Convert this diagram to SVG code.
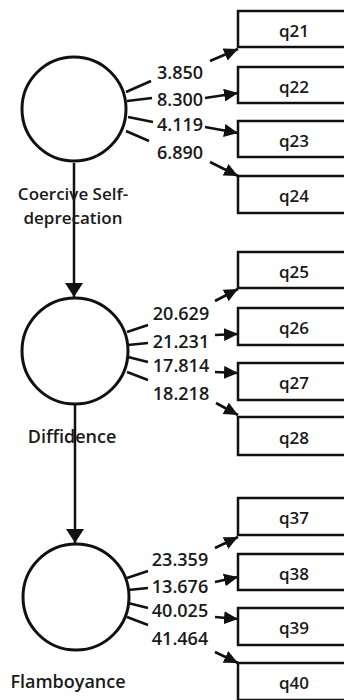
<svg xmlns="http://www.w3.org/2000/svg" width="344" height="700" viewBox="0 0 344 700">
  <style>
    .bg { fill: #ffffff; }
    .latent { fill: #ffffff; stroke: #111111; stroke-width: 3; }
    .item rect { fill: #ffffff; stroke: #111111; stroke-width: 2.5; }
    .item text { font-family: "Open Sans", "Liberation Sans", sans-serif; font-size: 17px; font-weight: 600; fill: #1a1a1a; text-anchor: middle; }
    .name { font-family: "Open Sans", "Liberation Sans", sans-serif; font-size: 18px; font-weight: 600; fill: #1a1a1a; text-anchor: middle; }
    .name.two { font-size: 17px; }
    .load { font-family: "Open Sans", "Liberation Sans", sans-serif; font-size: 18px; font-weight: 600; fill: #1a1a1a; text-anchor: middle; }
    .line { fill: none; stroke: #111111; stroke-width: 2.6; }
    .arrow { fill: none; stroke: #111111; stroke-width: 2.6; marker-end: url(#head); }
    .down { fill: none; stroke: #111111; stroke-width: 2.5; marker-end: url(#headBig); }
  </style>
  <defs>
    <marker id="head" markerUnits="userSpaceOnUse" markerWidth="14" markerHeight="13" refX="14" refY="6.5" orient="auto">
      <path d="M0,0 L14,6.5 L0,13 z" fill="#111111"/>
    </marker>
    <marker id="headBig" markerUnits="userSpaceOnUse" markerWidth="14" markerHeight="18" refX="14" refY="9" orient="auto">
      <path d="M0,0 L14,9 L0,18 z" fill="#111111"/>
    </marker>
  </defs>

  <rect class="bg" x="0" y="0" width="344" height="700"/>

  <!-- connectors: structural paths and factor loadings -->
  <g id="connectors">
    <path class="down" d="M74,163 V297"/>
    <path class="down" d="M75,405 V543"/>

    <!-- Coercive Self-deprecation loadings -->
    <path class="line" d="M126,92 L151,81"/>
    <path class="arrow" d="M210,61 L238,49"/>
    <path class="line" d="M127,101 L152,98"/>
    <path class="arrow" d="M205,98 L238,93"/>
    <path class="line" d="M128,117 L153,122"/>
    <path class="arrow" d="M205,127 L238,133"/>
    <path class="line" d="M126,131 L149,141"/>
    <path class="arrow" d="M210,162 L238,176"/>

    <!-- Diffidence loadings -->
    <path class="line" d="M127,332 L148,325"/>
    <path class="arrow" d="M215,301 L238,289"/>
    <path class="line" d="M128,345 L148,343"/>
    <path class="arrow" d="M215,335 L238,334"/>
    <path class="line" d="M128,357 L148,362"/>
    <path class="arrow" d="M215,372 L238,373"/>
    <path class="line" d="M127,372 L148,380"/>
    <path class="arrow" d="M216,403 L238,415"/>

    <!-- Flamboyance loadings -->
    <path class="line" d="M127,578 L148,571"/>
    <path class="arrow" d="M215,548 L238,537"/>
    <path class="line" d="M128,590 L148,588"/>
    <path class="arrow" d="M215,582 L238,577"/>
    <path class="line" d="M128,603 L148,608"/>
    <path class="arrow" d="M215,617 L238,619"/>
    <path class="line" d="M127,617 L148,625"/>
    <path class="arrow" d="M215,652 L238,663"/>

    <text class="load" x="180" y="79">3.850</text>
    <text class="load" x="180" y="106">8.300</text>
    <text class="load" x="180" y="131">4.119</text>
    <text class="load" x="180" y="159">6.890</text>

    <text class="load" x="181" y="320">20.629</text>
    <text class="load" x="181" y="348">21.231</text>
    <text class="load" x="181" y="372">17.814</text>
    <text class="load" x="181" y="400">18.218</text>

    <text class="load" x="180" y="566">23.359</text>
    <text class="load" x="180" y="593">13.676</text>
    <text class="load" x="180" y="617">40.025</text>
    <text class="load" x="180" y="645">41.464</text>
  </g>

  <!-- latent factors -->
  <g id="coercive">
    <circle class="latent" cx="74" cy="109" r="52"/>
    <text class="name two" x="73" y="200">Coercive Self-</text>
    <text class="name two" x="73" y="223.5">deprecation</text>
  </g>
  <g id="diffidence">
    <circle class="latent" cx="75" cy="351" r="53"/>
    <text class="name" x="72" y="443">Diffidence</text>
  </g>
  <g id="flamboyance">
    <circle class="latent" cx="76" cy="597" r="53"/>
    <text class="name" x="68" y="688">Flamboyance</text>
  </g>

  <!-- observed items -->
  <g id="q21" class="item"><rect x="238" y="11" width="120" height="36"/><text x="294" y="37">q21</text></g>
  <g id="q22" class="item"><rect x="238" y="67" width="120" height="36"/><text x="294" y="93">q22</text></g>
  <g id="q23" class="item"><rect x="238" y="121" width="120" height="36"/><text x="294" y="147">q23</text></g>
  <g id="q24" class="item"><rect x="238" y="176" width="120" height="37"/><text x="294" y="202">q24</text></g>

  <g id="q25" class="item"><rect x="238" y="252" width="120" height="36"/><text x="294" y="278">q25</text></g>
  <g id="q26" class="item"><rect x="238" y="308" width="120" height="37"/><text x="294" y="334">q26</text></g>
  <g id="q27" class="item"><rect x="238" y="363" width="120" height="37"/><text x="294" y="389">q27</text></g>
  <g id="q28" class="item"><rect x="238" y="417" width="120" height="38"/><text x="294" y="444">q28</text></g>

  <g id="q37" class="item"><rect x="238" y="498" width="120" height="37"/><text x="294" y="524">q37</text></g>
  <g id="q38" class="item"><rect x="238" y="554" width="120" height="36"/><text x="294" y="580">q38</text></g>
  <g id="q39" class="item"><rect x="238" y="608" width="120" height="37"/><text x="294" y="634">q39</text></g>
  <g id="q40" class="item"><rect x="238" y="663" width="120" height="37"/><text x="294" y="689">q40</text></g>
</svg>
